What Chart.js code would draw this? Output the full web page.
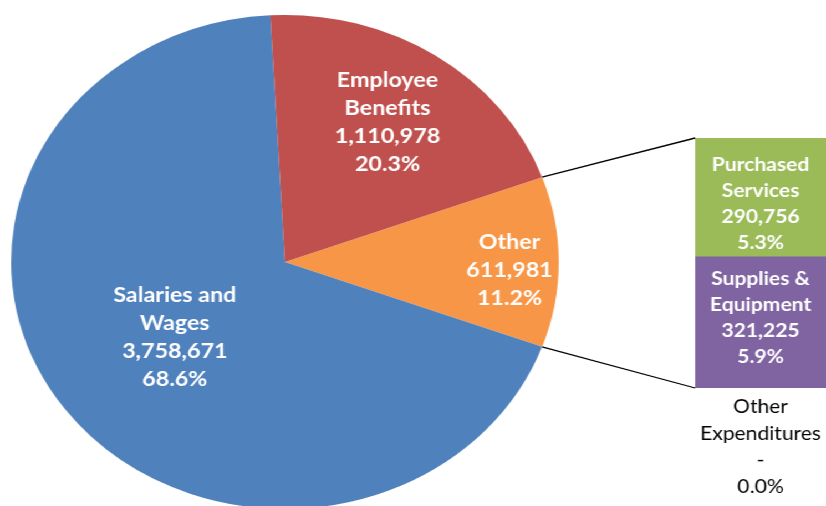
<!DOCTYPE html>
<html>
<head>
<meta charset="utf-8">
<script src="https://cdn.jsdelivr.net/npm/chart.js@4.4.1/dist/chart.umd.min.js"></script>
<style>
  html, body { margin: 0; padding: 0; background: #fff; overflow: hidden; }
  #wrap {
    position: relative;
    width: 745px;
    height: 506px;
    overflow: hidden;
    transform: scaleX(1.1087);
    transform-origin: 0 0;
  }
  #wrap canvas { position: absolute; left: 0; top: 0; }
</style>
</head>
<body>
<div id="wrap">
  <canvas id="pieChart" width="745" height="520"></canvas>
  <canvas id="barChart" width="745" height="520"></canvas>
</div>
<script>
// main pie: "Other" is broken out into the stacked column on the right
const pieLabels = [['Other'], ['Salaries and', 'Wages'], ['Employee', 'Benefits']];
const pieValues = [611981, 3758671, 1110978];
const pieColors = ['#F79646', '#4F81BD', '#C0504D'];

// breakdown of "Other"
const subLabels = [['Supplies &', 'Equipment'], ['Purchased', 'Services'], ['Other', 'Expenditures']];
const subValues = [321225, 290756, 0];
const subColors = ['#8064A2', '#9BBB59', '#4BACC6'];

// label placement: fraction of radius along the slice middle, plus a vertical nudge
const pieLabelRadius = [0.82, 0.5, 0.68];
const pieLabelNudge = [8, 2, 0];
const subLabelNudge = [-5, 6, 0];

const total = pieValues.reduce((a, b) => a + b, 0);
const otherTotal = subValues.reduce((a, b) => a + b, 0);

const fmtNum = v => v === 0 ? '-' : v.toLocaleString('en-US');
const fmtPct = v => (v / total * 100).toFixed(1) + '%';

function drawLines(ctx, lines, x, y, lineHeight) {
    const top = y - (lines.length - 1) * lineHeight / 2;
    lines.forEach((s, i) => ctx.fillText(s, x, top + i * lineHeight));
}

const pieLabelPlugin = {
    id: 'pieLabels',
    afterDatasetsDraw(chart) {
        const ctx = chart.ctx;
        const arcs = chart.getDatasetMeta(0).data;
        ctx.save();
        ctx.fillStyle = '#fff';
        ctx.font = 'bold 21px Lato';
        ctx.textAlign = 'center';
        ctx.textBaseline = 'middle';
        arcs.forEach((arc, i) => {
            const mid = (arc.startAngle + arc.endAngle) / 2;
            const r = arc.outerRadius * pieLabelRadius[i];
            const lines = pieLabels[i].concat([fmtNum(pieValues[i]), fmtPct(pieValues[i])]);
            drawLines(ctx, lines, arc.x + Math.cos(mid) * r, arc.y + Math.sin(mid) * r + pieLabelNudge[i], 28);
        });
        ctx.restore();
    }
};

const pieChart = new Chart(document.getElementById('pieChart'), {
    type: 'pie',
    data: {
        labels: pieLabels.map(l => l.join(' ')),
        datasets: [{
            data: pieValues,
            backgroundColor: pieColors,
            borderWidth: 0,
            hoverOffset: 0
        }]
    },
    options: {
        responsive: false,
        animation: false,
        events: [],
        devicePixelRatio: 1,
        // centre the "Other" slice on the right-hand side
        rotation: 90 - pieValues[0] / total * 180,
        layout: { padding: { top: 15, bottom: 11, left: 10, right: 241 } },
        plugins: { legend: { display: false }, tooltip: { enabled: false } }
    },
    plugins: [pieLabelPlugin]
});

const barPlugin = {
    id: 'barLabels',
    afterDatasetsDraw(chart) {
        const ctx = chart.ctx;
        ctx.save();
        ctx.textAlign = 'center';
        ctx.textBaseline = 'middle';

        let topBar = null, bottomBar = null;
        subValues.forEach((v, i) => {
            const bar = chart.getDatasetMeta(i).data[0];
            if (v > 0) {
                if (!bottomBar) bottomBar = bar;
                topBar = bar;
                ctx.fillStyle = '#fff';
                ctx.font = 'bold 19px Lato';
                const lines = subLabels[i].concat([fmtNum(v), fmtPct(v)]);
                drawLines(ctx, lines, bar.x, (bar.y + bar.base) / 2 + subLabelNudge[i], 26);
            }
        });

        // zero-valued item is listed under the column
        subValues.forEach((v, i) => {
            if (v !== 0) return;
            const bar = chart.getDatasetMeta(i).data[0];
            ctx.fillStyle = '#000';
            ctx.font = '19px Lato';
            const lines = subLabels[i].concat([fmtNum(v), fmtPct(v)]);
            const startY = chart.chartArea.bottom + 19;
            lines.forEach((s, j) => ctx.fillText(s, bar.x, startY + j * 26.5));
        });

        // connector lines from the "Other" slice to the column
        const arc = pieChart.getDatasetMeta(0).data[0];
        const left = topBar.x - topBar.width / 2;
        ctx.strokeStyle = '#000';
        ctx.lineWidth = 1.3;
        ctx.beginPath();
        ctx.moveTo(arc.x + Math.cos(arc.startAngle) * arc.outerRadius, arc.y + Math.sin(arc.startAngle) * arc.outerRadius);
        ctx.lineTo(left, topBar.y);
        ctx.moveTo(arc.x + Math.cos(arc.endAngle) * arc.outerRadius, arc.y + Math.sin(arc.endAngle) * arc.outerRadius);
        ctx.lineTo(left, bottomBar.base);
        ctx.stroke();
        ctx.restore();
    }
};

new Chart(document.getElementById('barChart'), {
    type: 'bar',
    data: {
        labels: ['Other'],
        datasets: subValues.map((v, i) => ({
            label: subLabels[i].join(' '),
            data: [v],
            backgroundColor: subColors[i],
            borderWidth: 0,
            barPercentage: 1,
            categoryPercentage: 1
        }))
    },
    options: {
        responsive: false,
        animation: false,
        events: [],
        devicePixelRatio: 1,
        layout: { padding: { top: 138, bottom: 132, left: 627, right: 0 } },
        scales: {
            x: { stacked: true, display: false },
            y: { stacked: true, display: false, min: 0, max: otherTotal }
        },
        plugins: { legend: { display: false }, tooltip: { enabled: false } }
    },
    plugins: [barPlugin]
});
</script>
</body>
</html>
